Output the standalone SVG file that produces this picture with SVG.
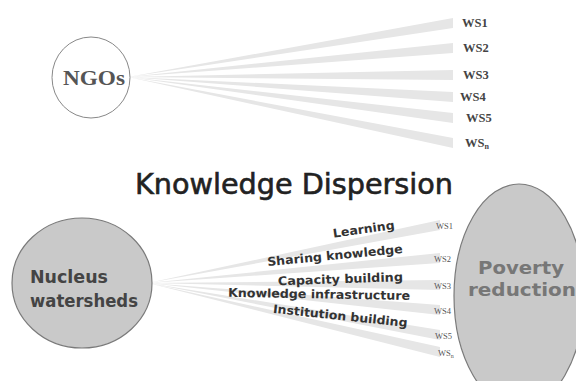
<svg xmlns="http://www.w3.org/2000/svg" width="576" height="381" viewBox="0 0 576 381">
<style>
.wedge{fill:#e6e6e6}
.ws{font-family:"Liberation Serif",serif;font-size:12.5px;font-weight:bold;fill:#444}
.wss{font-family:"Liberation Serif",serif;font-size:8.5px;fill:#555}
.lab{font-family:"DejaVu Sans",sans-serif;font-size:12px;font-weight:bold;fill:#333}
.node{fill:#c9c9c9;stroke:#7a7a7a;stroke-width:1.2}
.pov{font-family:"DejaVu Sans",sans-serif;font-size:17.5px;font-weight:bold;fill:#777}
</style>
<rect width="576" height="381" fill="#fff"/>
<g id="connectors">
<polygon class="wedge" points="128,77 453,18 453,28"/>
<polygon class="wedge" points="128,77 453,43 453,53"/>
<polygon class="wedge" points="128,77 453,70 453,80"/>
<polygon class="wedge" points="128,77 453,92 453,102"/>
<polygon class="wedge" points="128,77 453,113 453,123"/>
<polygon class="wedge" points="128,77 453,138 453,148"/>
<polygon class="wedge" points="148,283 440,220 440,230"/>
<polygon class="wedge" points="148,283 440,253 440,263"/>
<polygon class="wedge" points="148,283 440,280 440,290"/>
<polygon class="wedge" points="148,283 440,305 440,315"/>
<polygon class="wedge" points="148,283 440,330 440,340"/>
<polygon class="wedge" points="148,283 440,347 440,357"/>
</g>
<g id="ngos">
<ellipse cx="91" cy="77.5" rx="39" ry="40.5" fill="#fff" stroke="#888" stroke-width="1"/>
<text x="94" y="85" text-anchor="middle" font-family="Liberation Serif,serif" font-size="21" font-weight="bold" fill="#555" textLength="62" lengthAdjust="spacingAndGlyphs">NGOs</text>
</g>
<g id="ws-top">
<text class="ws" x="462" y="27">WS1</text>
<text class="ws" x="463" y="52">WS2</text>
<text class="ws" x="463" y="79">WS3</text>
<text class="ws" x="460" y="101">WS4</text>
<text class="ws" x="466" y="122">WS5</text>
<text class="ws" x="465" y="147">WS<tspan font-size="8" dy="2">n</tspan></text>
</g>
<g id="title">
<text x="135" y="194" font-family="DejaVu Sans,sans-serif" font-size="28" fill="#222" stroke="#222" stroke-width="0.6" textLength="318" lengthAdjust="spacingAndGlyphs">Knowledge Dispersion</text>
</g>
<g id="nucleus">
<ellipse class="node" cx="82" cy="283" rx="70" ry="65"/>
<text x="30" y="283" font-family="DejaVu Sans,sans-serif" font-size="17" font-weight="bold" fill="#444" textLength="78" lengthAdjust="spacingAndGlyphs">Nucleus</text>
<text x="30" y="307" font-family="DejaVu Sans,sans-serif" font-size="17" font-weight="bold" fill="#444" textLength="108" lengthAdjust="spacingAndGlyphs">watersheds</text>
</g>
<g id="labels">
<text class="lab" transform="translate(395,229) rotate(-8)" text-anchor="end" textLength="62" lengthAdjust="spacingAndGlyphs">Learning</text>
<text class="lab" transform="translate(403,253) rotate(-5.5)" text-anchor="end" textLength="136" lengthAdjust="spacingAndGlyphs">Sharing knowledge</text>
<text class="lab" transform="translate(403,281) rotate(-2)" text-anchor="end" textLength="125" lengthAdjust="spacingAndGlyphs">Capacity building</text>
<text class="lab" transform="translate(410,300) rotate(1)" text-anchor="end" textLength="182" lengthAdjust="spacingAndGlyphs">Knowledge infrastructure</text>
<text class="lab" transform="translate(407,327) rotate(6)" text-anchor="end" textLength="135" lengthAdjust="spacingAndGlyphs">Institution building</text>
</g>
<g id="ws-bottom">
<text class="wss" x="436" y="229">WS1</text>
<text class="wss" x="434" y="262">WS2</text>
<text class="wss" x="434" y="289">WS3</text>
<text class="wss" x="434" y="314">WS4</text>
<text class="wss" x="435" y="339">WS5</text>
<text class="wss" x="438" y="356">WS<tspan font-size="6" dy="1.5">n</tspan></text>
</g>
<g id="poverty">
<ellipse class="node" cx="519" cy="296" rx="65" ry="112"/>
<text class="pov" x="521" y="274" text-anchor="middle" textLength="86" lengthAdjust="spacingAndGlyphs">Poverty</text>
<text class="pov" x="522" y="296" text-anchor="middle" textLength="108" lengthAdjust="spacingAndGlyphs">reduction</text>
</g>
</svg>
